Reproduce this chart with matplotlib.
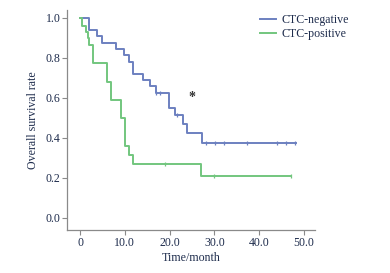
import numpy as np
import matplotlib
matplotlib.use("Agg")
import matplotlib.pyplot as plt

# Kaplan-Meier step data
neg_time = [0, 2.0, 3.9, 5.0, 8.0, 9.9, 11.0, 11.9, 14.0, 15.6, 16.9, 19.9, 21.1, 23.1, 24.0, 27.2, 48.2]
neg_surv = [1.0, 0.9375, 0.906, 0.875, 0.844, 0.8125, 0.78, 0.72, 0.6875, 0.656, 0.625, 0.55, 0.5125, 0.4675, 0.424, 0.374, 0.374]
neg_censor = [16.9, 17.9, 21.6, 28.1, 30.1, 32.1, 37.2, 44.0, 46.0, 48.0]

pos_time = [0, 0.5, 1.3, 1.7, 2.1, 2.8, 6.0, 6.9, 9.1, 10.0, 10.9, 11.9, 27.1, 47.2]
pos_surv = [1.0, 0.96, 0.93, 0.90, 0.865, 0.771, 0.679, 0.5875, 0.496, 0.3575, 0.3125, 0.266, 0.21, 0.21]
pos_censor = [19.0, 30.0, 47.2]

labels = ["CTC-negative", "CTC-positive"]
x_ticks = [0, 10, 20, 30, 40, 50]
y_ticks = [0.0, 0.2, 0.4, 0.6, 0.8, 1.0]

blue = "#6c80c0"
green = "#72c67e"
txt = "#1f2d4d"

plt.rcParams["font.family"] = ["Liberation Serif", "DejaVu Serif"]
plt.rcParams["font.size"] = 8.6


def surv_at(t, times, surv):
    idx = np.searchsorted(times, t, side="right") - 1
    return np.array(surv)[idx]


fig = plt.figure(figsize=(3.9, 2.73), dpi=100)
ax = fig.add_axes([0.173, 0.1575, 0.635, 0.8075])

for times, surv, cens, col, lab in [(neg_time, neg_surv, neg_censor, blue, labels[0]),
                                    (pos_time, pos_surv, pos_censor, green, labels[1])]:
    ax.step(times, surv, where="post", color=col, lw=1.4, label=lab)
    ax.plot(cens, surv_at(cens, times, surv), ls="none", marker="|",
            ms=3, mew=0.9, color=col)

ax.text(24.9, 0.60, "*", color="#333333", fontsize=10, fontweight="bold",
        ha="center", va="center")

ax.set_xlim(-2.8, 52.5)
ax.set_ylim(-0.0625, 1.04)
ax.set_xticks(x_ticks)
ax.set_xticklabels(["0"] + ["%.1f" % v for v in x_ticks[1:]])
ax.set_yticks(y_ticks)
ax.set_yticklabels(["%.1f" % v for v in y_ticks])
ax.set_xlabel("Time/month", color=txt, labelpad=2)
ax.set_ylabel("Overall survival rate", color=txt, labelpad=5)

for s in ["top", "right"]:
    ax.spines[s].set_visible(False)
for s in ["left", "bottom"]:
    ax.spines[s].set_color("#8a8a8a")
    ax.spines[s].set_linewidth(0.9)
ax.tick_params(colors="#8a8a8a", labelcolor=txt, length=3.5, width=0.8, pad=1.5)

fig.legend(loc="upper left", bbox_to_anchor=(254 / 390, 1 - 8 / 273),
           frameon=False, borderpad=0, handlelength=1.3, handletextpad=0.5,
           labelspacing=0.15, labelcolor=txt)

fig.savefig("out.png", dpi=100)
